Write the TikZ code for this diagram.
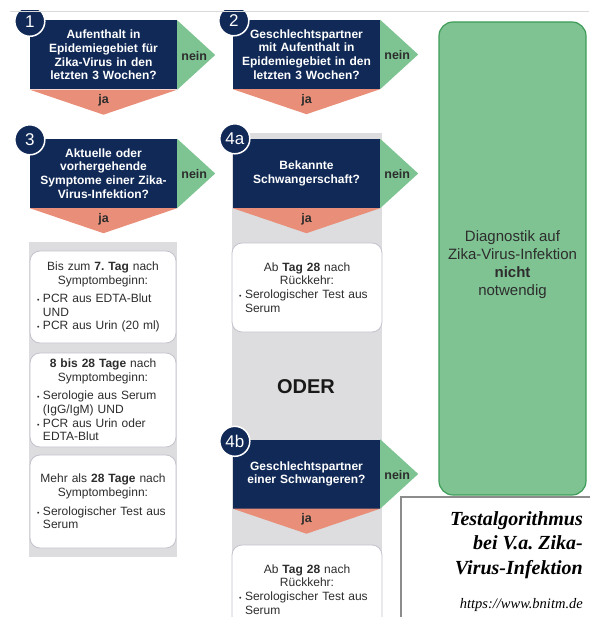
\documentclass[tikz,border=0pt]{standalone}
\usepackage{fontspec}
\setmainfont{Liberation Sans}
\newfontfamily\titlefont{Liberation Serif}
\usetikzlibrary{calc}
\frenchspacing
\definecolor{navy}{RGB}{16,41,87}
\definecolor{neingreen}{RGB}{125,196,146}
\definecolor{jasalmon}{RGB}{233,142,120}
\definecolor{panelgray}{RGB}{221,221,223}
\definecolor{boxline}{RGB}{195,195,205}
\definecolor{resultfill}{RGB}{127,195,147}
\definecolor{resultline}{RGB}{62,156,88}
\definecolor{textgray}{RGB}{45,45,45}
\definecolor{topline}{RGB}{218,218,218}
\tikzstyle{question}=[rectangle,fill=navy,text=white,font=\fontsize{12}{13.6}\selectfont\bfseries,text width=140pt,inner xsep=3.5pt,minimum height=69pt,align=center]
\tikzstyle{number}=[circle,fill=navy,draw=white,line width=1.5pt,text=white,font=\fontsize{17}{17}\selectfont,minimum size=30pt,inner sep=0pt]
\tikzstyle{answer}=[font=\fontsize{12.5}{13}\selectfont\bfseries,text=textgray,inner sep=1pt]
\tikzstyle{infobox}=[rectangle,rounded corners=10pt,fill=white,draw=boxline,line width=0.8pt,text=textgray,font=\fontsize{12}{13.6}\selectfont,text width=138pt,inner xsep=4pt,align=left]
\tikzstyle{resultbox}=[fill=resultfill,draw=resultline,line width=1.2pt,rounded corners=14pt]
\tikzstyle{resulttext}=[font=\fontsize{15}{18}\selectfont,text=textgray,align=center,inner sep=0pt]
\newcommand{\qarrows}[1]{%
  \fill[neingreen] (#1.north east) -- ($(#1.east)+(38,0)$) -- (#1.south east) -- cycle;
  \fill[jasalmon] (#1.south west) -- ($(#1.south)+(0,25)$) -- (#1.south east) -- cycle;
  \node[answer,anchor=west] (#1-nein) at ($(#1.east)+(3,1)$) {nein};
  \node[answer] (#1-ja) at ($(#1.south)+(0,11)$) {ja};
}
\newcommand{\boxhead}[1]{{\centering #1\par}}
\newcommand{\boxitem}[1]{\par\noindent\hangindent=9pt\hangafter=1\makebox[9pt][l]{\hspace{3pt}\fontsize{7}{7}\selectfont•}#1\par}

\begin{document}
\begin{tikzpicture}[x=1pt,y=-1pt]
\useasboundingbox (0,0) rectangle (589,617);
% grey columns behind the tests
\fill[panelgray] (29,242) rectangle (177,557);
\fill[panelgray] (232,133) rectangle (382,617);

% questions
\node[question] (q1) at (103.5,55) {Aufenthalt in\\Epidemiegebiet für\\Zika-Virus in den\\letzten 3 Wochen?};
\node[question] (q2) at (306.5,54.5) {Geschlechtspartner\\mit Aufenthalt in\\Epidemiegebiet in den\\letzten 3 Wochen?};
\node[question] (q3) at (103.5,173.5) {Aktuelle oder\\vorhergehende\\Symptome einer Zika-\\Virus-Infektion?};
\node[question] (q4a) at (306.5,173.5) {Bekannte\\Schwangerschaft?};
\node[question] (q4b) at (306.5,474) {Geschlechtspartner\\einer Schwangeren?};
\qarrows{q1}
\qarrows{q2}
\qarrows{q3}
\qarrows{q4a}
\qarrows{q4b}

% step numbers
\begin{scope}
  \clip (0,11) rectangle (589,617);
  \node[number] (n1) at ($(q1.north west)+(0,1)$) {1};
  \node[number] (n2) at ($(q2.north west)+(1,1)$) {2};
  \node[number] (n3) at ($(q3.north west)+(0,1)$) {3};
  \node[number] (n4a) at ($(q4a.north west)+(2,0)$) {4a};
  \node[number] (n4b) at ($(q4b.north west)+(2,2)$) {4b};
\end{scope}
\draw[topline,line width=0.8pt] (10,11) -- (589,11);

% tests after symptoms
\node[infobox,minimum height=92pt] (t1) at (103,297) {\boxhead{Bis zum \textbf{7. Tag} nach\\Symptombeginn:}\vspace{5pt}%
  \boxitem{PCR aus EDTA-Blut\newline UND}\boxitem{PCR aus Urin (20 ml)}};
\node[infobox,minimum height=94pt] (t2) at (103,400) {\boxhead{\textbf{8 bis 28 Tage} nach\\Symptombeginn:}\vspace{5pt}%
  \boxitem{Serologie aus Serum\newline (IgG/IgM) UND}\boxitem{PCR aus Urin oder\newline EDTA-Blut}};
\node[infobox,minimum height=93pt] (t3) at (103,501.5) {\boxhead{Mehr als \textbf{28 Tage} nach\\Symptombeginn:}\vspace{5pt}%
  \boxitem{Serologischer Test aus\newline Serum}};

% tests in pregnancy
\node[infobox,text width=142pt,minimum height=89pt] (t4a) at (307,287.5) {\boxhead{Ab \textbf{Tag 28} nach\\Rückkehr:}%
  \boxitem{Serologischer Test aus\newline Serum}};
\node[font=\fontsize{20}{20}\selectfont\bfseries,text=black!90] (oder) at (306,387) {ODER};
\node[infobox,text width=142pt,minimum height=89pt] (t4b) at (307,589.5) {\boxhead{Ab \textbf{Tag 28} nach\\Rückkehr:}%
  \boxitem{Serologischer Test aus\newline Serum}};

% result
\draw[resultbox] (439,22) rectangle (586,495);
\node[resulttext] (res) at (512.5,265) {Diagnostik auf\\Zika-Virus-Infektion\\\textbf{nicht}\\notwendig};

% caption
\draw[fill=white,draw=black!45,line width=2pt] (401,497) rectangle (620,640);
\node[anchor=east,align=right,inner sep=0pt,font=\titlefont\bfseries\itshape\fontsize{20}{24.5}\selectfont] (title) at (583,545) {Testalgorithmus\\bei V.a. Zika-\\Virus-Infektion};
\node[anchor=east,inner sep=0pt,font=\titlefont\itshape\fontsize{14.5}{16}\selectfont] (url) at (583,605) {https://www.bnitm.de};
\end{tikzpicture}
\end{document}
